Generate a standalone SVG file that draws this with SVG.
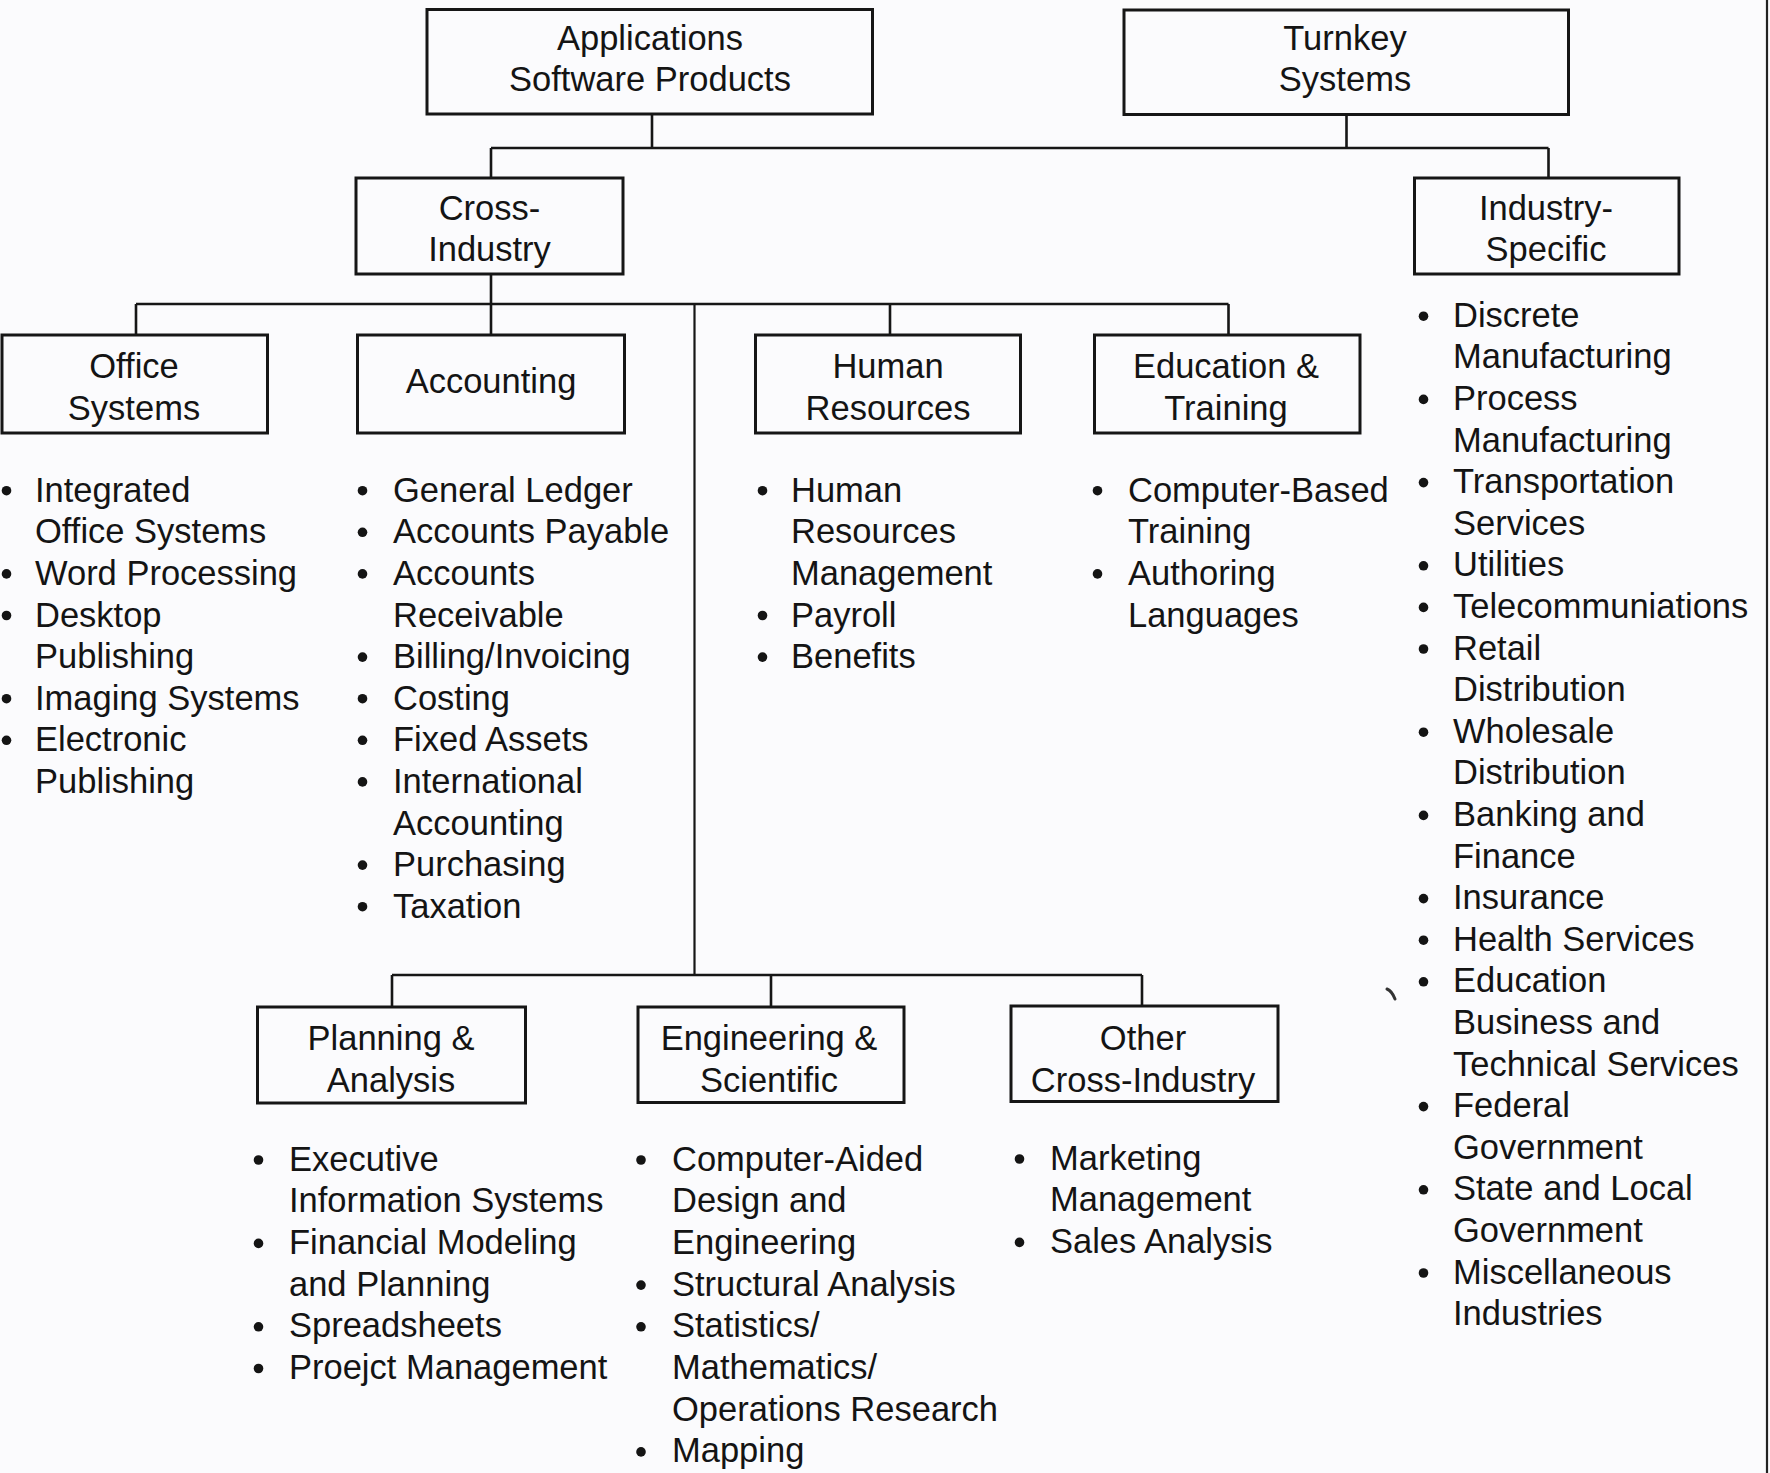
<svg xmlns="http://www.w3.org/2000/svg" width="1770" height="1473" viewBox="0 0 1770 1473">
  <style>
    .box { fill: none; stroke: #161616; stroke-width: 3; }
    .wire { fill: none; stroke: #161616; stroke-width: 2.6; }
    .spine { fill: none; stroke: #161616; stroke-width: 2.2; }
    text { font-family: "Liberation Sans", Arial, Helvetica, sans-serif; font-size: 34.5px; fill: #141414; }
    .c { text-anchor: middle; }
    .dot { fill: #141414; }
  </style>
  <rect x="0" y="0" width="1770" height="1473" fill="#fbfbfd"/>
  <!-- sheet edge on the right -->
  <path d="M1767,0 V1473" stroke="#222" stroke-width="2.2" fill="none"/>
  <!-- small stray pen mark beside the industry list -->
  <path d="M1387,989 q5,2 8,10" stroke="#333" stroke-width="3" fill="none" stroke-linecap="round"/>

  <!-- connectors -->
  <g id="connectors">
    <!-- top tier -->
    <path class="wire" d="M652,114 V148 M1346.5,114 V148 M491,148 H1548.5 M491,148 V178 M1548.5,148 V178"/>
    <!-- cross-industry branch -->
    <path class="wire" d="M491,274 V335 M136,304 H1228.5 M136,304 V335 M890,304 V335 M1228.5,304 V335"/>
    <path class="spine" d="M694.5,304 V975"/>
    <!-- lower branch -->
    <path class="wire" d="M392,975 H1142 M392,975 V1007 M771,975 V1007 M1142,975 V1006"/>
  </g>

  <g id="applications">
    <rect class="box" x="427" y="9.5" width="445.5" height="104.5"/>
    <text class="c" x="650" y="50">Applications</text>
    <text class="c" x="650" y="91">Software Products</text>
  </g>

  <g id="turnkey">
    <rect class="box" x="1124" y="10" width="444.5" height="104.5"/>
    <text class="c" x="1345" y="50">Turnkey</text>
    <text class="c" x="1345" y="91">Systems</text>
  </g>

  <g id="cross-industry">
    <rect class="box" x="356" y="178" width="267" height="96"/>
    <text class="c" x="489.5" y="220">Cross-</text>
    <text class="c" x="489.5" y="261">Industry</text>
  </g>

  <g id="industry-specific">
    <rect class="box" x="1414.5" y="178" width="264.5" height="96"/>
    <text class="c" x="1546" y="220">Industry-</text>
    <text class="c" x="1546" y="261">Specific</text>
    <g id="industry-list">
      <circle class="dot" cx="1423.5" cy="316.2" r="4.8"/><text x="1453" y="326.7">Discrete</text>
      <text x="1453" y="368.3">Manufacturing</text>
      <circle class="dot" cx="1423.5" cy="399.4" r="4.8"/><text x="1453" y="409.9">Process</text>
      <text x="1453" y="451.5">Manufacturing</text>
      <circle class="dot" cx="1423.5" cy="482.6" r="4.8"/><text x="1453" y="493.1">Transportation</text>
      <text x="1453" y="534.7">Services</text>
      <circle class="dot" cx="1423.5" cy="565.8" r="4.8"/><text x="1453" y="576.3">Utilities</text>
      <circle class="dot" cx="1423.5" cy="607.4" r="4.8"/><text x="1453" y="617.9">Telecommuniations</text>
      <circle class="dot" cx="1423.5" cy="649" r="4.8"/><text x="1453" y="659.5">Retail</text>
      <text x="1453" y="701.1">Distribution</text>
      <circle class="dot" cx="1423.5" cy="732.2" r="4.8"/><text x="1453" y="742.7">Wholesale</text>
      <text x="1453" y="784.3">Distribution</text>
      <circle class="dot" cx="1423.5" cy="815.4" r="4.8"/><text x="1453" y="825.9">Banking and</text>
      <text x="1453" y="867.5">Finance</text>
      <circle class="dot" cx="1423.5" cy="898.6" r="4.8"/><text x="1453" y="909.1">Insurance</text>
      <circle class="dot" cx="1423.5" cy="940.2" r="4.8"/><text x="1453" y="950.7">Health Services</text>
      <circle class="dot" cx="1423.5" cy="981.8" r="4.8"/><text x="1453" y="992.3">Education</text>
      <text x="1453" y="1033.9">Business and</text>
      <text x="1453" y="1075.5">Technical Services</text>
      <circle class="dot" cx="1423.5" cy="1106.6" r="4.8"/><text x="1453" y="1117.1">Federal</text>
      <text x="1453" y="1158.7">Government</text>
      <circle class="dot" cx="1423.5" cy="1189.8" r="4.8"/><text x="1453" y="1200.3">State and Local</text>
      <text x="1453" y="1241.9">Government</text>
      <circle class="dot" cx="1423.5" cy="1273" r="4.8"/><text x="1453" y="1283.5">Miscellaneous</text>
      <text x="1453" y="1325.1">Industries</text>
    </g>
  </g>

  <g id="office-systems">
    <rect class="box" x="2" y="335" width="265.5" height="98"/>
    <text class="c" x="134" y="378">Office</text>
    <text class="c" x="134" y="420">Systems</text>
    <g id="office-list">
      <circle class="dot" cx="6.5" cy="490.7" r="4.8"/><text x="35" y="501.7">Integrated</text>
      <text x="35" y="543.3">Office Systems</text>
      <circle class="dot" cx="6.5" cy="573.9" r="4.8"/><text x="35" y="584.9">Word Processing</text>
      <circle class="dot" cx="6.5" cy="615.5" r="4.8"/><text x="35" y="626.5">Desktop</text>
      <text x="35" y="668.1">Publishing</text>
      <circle class="dot" cx="6.5" cy="698.7" r="4.8"/><text x="35" y="709.7">Imaging Systems</text>
      <circle class="dot" cx="6.5" cy="740.3" r="4.8"/><text x="35" y="751.3">Electronic</text>
      <text x="35" y="792.9">Publishing</text>
    </g>
  </g>

  <g id="accounting">
    <rect class="box" x="357.5" y="335" width="267" height="98"/>
    <text class="c" x="491" y="393">Accounting</text>
    <g id="accounting-list">
      <circle class="dot" cx="362.5" cy="490.7" r="4.8"/><text x="393" y="501.7">General Ledger</text>
      <circle class="dot" cx="362.5" cy="532.3" r="4.8"/><text x="393" y="543.3">Accounts Payable</text>
      <circle class="dot" cx="362.5" cy="573.9" r="4.8"/><text x="393" y="584.9">Accounts</text>
      <text x="393" y="626.5">Receivable</text>
      <circle class="dot" cx="362.5" cy="657.1" r="4.8"/><text x="393" y="668.1">Billing/Invoicing</text>
      <circle class="dot" cx="362.5" cy="698.7" r="4.8"/><text x="393" y="709.7">Costing</text>
      <circle class="dot" cx="362.5" cy="740.3" r="4.8"/><text x="393" y="751.3">Fixed Assets</text>
      <circle class="dot" cx="362.5" cy="781.9" r="4.8"/><text x="393" y="792.9">International</text>
      <text x="393" y="834.5">Accounting</text>
      <circle class="dot" cx="362.5" cy="865.1" r="4.8"/><text x="393" y="876.1">Purchasing</text>
      <circle class="dot" cx="362.5" cy="906.7" r="4.8"/><text x="393" y="917.7">Taxation</text>
    </g>
  </g>

  <g id="human-resources">
    <rect class="box" x="755.5" y="335" width="265" height="98"/>
    <text class="c" x="888" y="378">Human</text>
    <text class="c" x="888" y="420">Resources</text>
    <g id="hr-list">
      <circle class="dot" cx="762.5" cy="490.7" r="4.8"/><text x="791" y="501.7">Human</text>
      <text x="791" y="543.3">Resources</text>
      <text x="791" y="584.9">Management</text>
      <circle class="dot" cx="762.5" cy="615.5" r="4.8"/><text x="791" y="626.5">Payroll</text>
      <circle class="dot" cx="762.5" cy="657.1" r="4.8"/><text x="791" y="668.1">Benefits</text>
    </g>
  </g>

  <g id="education-training">
    <rect class="box" x="1094.5" y="335" width="265.5" height="98"/>
    <text class="c" x="1226" y="378">Education &amp;</text>
    <text class="c" x="1226" y="420">Training</text>
    <g id="education-list">
      <circle class="dot" cx="1097.5" cy="490.7" r="4.8"/><text x="1128" y="501.7">Computer-Based</text>
      <text x="1128" y="543.3">Training</text>
      <circle class="dot" cx="1097.5" cy="573.9" r="4.8"/><text x="1128" y="584.9">Authoring</text>
      <text x="1128" y="626.5">Languages</text>
    </g>
  </g>

  <g id="planning-analysis">
    <rect class="box" x="257.5" y="1007" width="268" height="96"/>
    <text class="c" x="391" y="1049.5">Planning &amp;</text>
    <text class="c" x="391" y="1091.5">Analysis</text>
    <g id="planning-list">
      <circle class="dot" cx="258.5" cy="1160" r="4.8"/><text x="289" y="1170.5">Executive</text>
      <text x="289" y="1212.2">Information Systems</text>
      <circle class="dot" cx="258.5" cy="1243.4" r="4.8"/><text x="289" y="1253.9">Financial Modeling</text>
      <text x="289" y="1295.6">and Planning</text>
      <circle class="dot" cx="258.5" cy="1326.8" r="4.8"/><text x="289" y="1337.3">Spreadsheets</text>
      <circle class="dot" cx="258.5" cy="1368.5" r="4.8"/><text x="289" y="1379">Proejct Management</text>
    </g>
  </g>

  <g id="engineering-scientific">
    <rect class="box" x="638" y="1007" width="266" height="95.5"/>
    <text class="c" x="769" y="1049.5">Engineering &amp;</text>
    <text class="c" x="769" y="1091.5">Scientific</text>
    <g id="engineering-list">
      <circle class="dot" cx="641" cy="1160" r="4.8"/><text x="672" y="1170.5">Computer-Aided</text>
      <text x="672" y="1212.2">Design and</text>
      <text x="672" y="1253.9">Engineering</text>
      <circle class="dot" cx="641" cy="1285.1" r="4.8"/><text x="672" y="1295.6">Structural Analysis</text>
      <circle class="dot" cx="641" cy="1326.8" r="4.8"/><text x="672" y="1337.3">Statistics/</text>
      <text x="672" y="1379">Mathematics/</text>
      <text x="672" y="1420.7">Operations Research</text>
      <circle class="dot" cx="641" cy="1451.9" r="4.8"/><text x="672" y="1462.4">Mapping</text>
    </g>
  </g>

  <g id="other-cross-industry">
    <rect class="box" x="1011" y="1006" width="267" height="95.5"/>
    <text class="c" x="1143" y="1049.5">Other</text>
    <text class="c" x="1143" y="1091.5">Cross-Industry</text>
    <g id="other-list">
      <circle class="dot" cx="1019.5" cy="1159" r="4.8"/><text x="1050" y="1169.5">Marketing</text>
      <text x="1050" y="1211.2">Management</text>
      <circle class="dot" cx="1019.5" cy="1242.4" r="4.8"/><text x="1050" y="1252.9">Sales Analysis</text>
    </g>
  </g>
</svg>
